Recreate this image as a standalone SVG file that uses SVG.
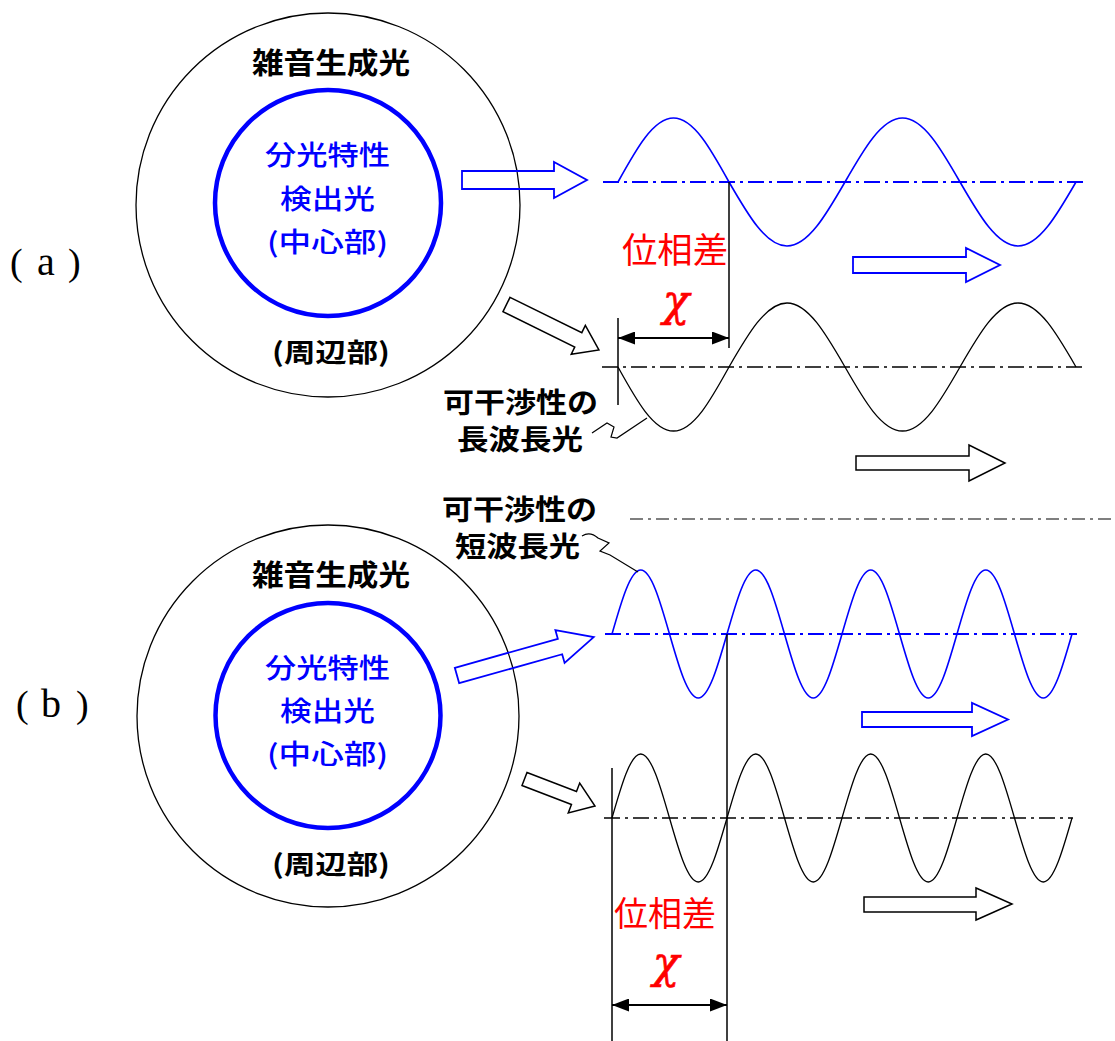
<svg xmlns="http://www.w3.org/2000/svg" width="1115" height="1041" viewBox="0 0 1115 1041">
<defs>
<style>
.outer{fill:none;stroke:#000;stroke-width:1.3}
.inner{fill:none;stroke:#0000ff;stroke-width:4.5}
.lbl{font-family:"Noto Sans CJK JP","Noto Sans",sans-serif;font-weight:bold;fill:#000}
.blu{font-family:"Noto Sans CJK JP","Noto Sans",sans-serif;font-weight:500;fill:#0000ff;font-size:27px}
.red{font-family:"Noto Sans CJK JP","Noto Sans",sans-serif;fill:#ff0000}
.chi{font-family:"DejaVu Serif",serif;font-style:italic;fill:#ff0000;font-size:44px;text-anchor:middle;stroke:#ff0000;stroke-width:0.6}
.tag{font-family:"Liberation Serif",serif;font-size:38px;fill:#000}
.wb{fill:none;stroke:#0000ff;stroke-width:1.6}
.wk{fill:none;stroke:#000;stroke-width:1.3}
.axb{stroke:#0000ff;stroke-width:2;stroke-dasharray:16 5 3 5;fill:none}
.axk{stroke:#000;stroke-width:1.5;stroke-dasharray:16 5 3 5;fill:none}
.axt{stroke:#000;stroke-width:1.2;stroke-dasharray:13 5 3 5;fill:none}
.hab{fill:none;stroke:#0000ff;stroke-width:1.8;stroke-linejoin:miter}
.hak{fill:none;stroke:#000;stroke-width:1.5;stroke-linejoin:miter}
.ref{stroke:#000;stroke-width:1.5;fill:none}
.dim{stroke:#000;stroke-width:2;fill:none;marker-start:url(#dh);marker-end:url(#dh)}
.call{stroke:#000;stroke-width:1.2;fill:none}
</style>
<marker id="dh" viewBox="0 0 17 13" refX="17" refY="6.5" markerWidth="17" markerHeight="13" markerUnits="userSpaceOnUse" orient="auto-start-reverse"><path d="M0,0 L17,6.5 L0,13 Z" fill="#000"/></marker>
</defs>
<rect width="1115" height="1041" fill="#fff"/>

<!-- Panel (a) -->
<g id="label-a"><text class="tag" y="275"><tspan x="10">(</tspan><tspan x="37" font-size="40">a</tspan><tspan x="68">)</tspan></text></g>
<g id="source-a">
<circle class="outer" cx="328" cy="205" r="192"/>
<circle class="inner" cx="328" cy="203" r="113"/>
<text class="lbl" x="252" y="74" font-size="29" textLength="158" lengthAdjust="spacingAndGlyphs">雑音生成光</text>
<text class="blu" x="265" y="165" textLength="125" lengthAdjust="spacingAndGlyphs">分光特性</text>
<text class="blu" x="280" y="209" textLength="95" lengthAdjust="spacingAndGlyphs">検出光</text>
<text class="blu" x="267" y="252" textLength="121" lengthAdjust="spacingAndGlyphs">(中心部)</text>
<text class="lbl" x="272" y="362" font-size="26" textLength="118" lengthAdjust="spacingAndGlyphs">(周辺部)</text>
</g>
<g id="wave-a-blue">
<line class="axb" x1="603" y1="182" x2="1084" y2="182"/>
<path class="wb" d="M618,182 c18.10,-32.79 35.41,-64 55.5,-64 c20.09,0 37.40,31.21 55.5,64 c18.92,32.79 37.01,64 58,64 c20.99,0 39.08,-31.21 58,-64 c18.75,-32.79 36.69,-64 57.5,-64 c20.81,0 38.75,31.21 57.5,64 c18.92,32.79 37.01,64 58,64 c20.99,0 39.08,-31.21 58,-64"/>
</g>
<g id="wave-a-black">
<line class="axk" x1="602" y1="367" x2="1084" y2="367"/>
<path class="wk" d="M618,367 c18.10,32.79 35.41,64 55.5,64 c20.09,0 37.40,-31.21 55.5,-64 c18.92,-32.79 37.01,-64 58,-64 c20.99,0 39.08,31.21 58,64 c18.75,32.79 36.69,64 57.5,64 c20.81,0 38.75,-31.21 57.5,-64 c18.92,-32.79 37.01,-64 58,-64 c20.99,0 39.08,31.21 58,64"/>
</g>
<g id="labels-a">
<text class="red" x="622" y="263" font-size="35" textLength="106" lengthAdjust="spacingAndGlyphs">位相差</text>
<text class="chi" x="676" y="316">χ</text>
<text class="lbl" x="443" y="413" font-size="28" textLength="155" lengthAdjust="spacingAndGlyphs">可干渉性の</text>
<text class="lbl" x="457" y="450" font-size="28" textLength="126" lengthAdjust="spacingAndGlyphs">長波長光</text>
</g>

<!-- Separator -->
<g id="separator"><line class="axt" x1="630" y1="519" x2="1115" y2="519"/></g>

<!-- Panel (b) -->
<g id="label-b"><text class="tag" y="717"><tspan x="16">(</tspan><tspan x="41" font-size="40">b</tspan><tspan x="76">)</tspan></text></g>
<g id="source-b">
<circle class="outer" cx="328" cy="716" r="191"/>
<circle class="inner" cx="328" cy="715.5" r="112.5"/>
<text class="lbl" x="252" y="586" font-size="29" textLength="158" lengthAdjust="spacingAndGlyphs">雑音生成光</text>
<text class="blu" x="265" y="678" textLength="125" lengthAdjust="spacingAndGlyphs">分光特性</text>
<text class="blu" x="280" y="721" textLength="95" lengthAdjust="spacingAndGlyphs">検出光</text>
<text class="blu" x="267" y="764" textLength="121" lengthAdjust="spacingAndGlyphs">(中心部)</text>
<text class="lbl" x="272" y="874" font-size="26" textLength="118" lengthAdjust="spacingAndGlyphs">(周辺部)</text>
</g>
<g id="wave-b-blue">
<line class="axb" x1="605" y1="634" x2="1077" y2="634"/>
<path class="wb" d="M612,634 c9.38,-32.79 18.35,-64 28.75,-64 c10.40,0 19.37,31.21 28.75,64 c9.38,32.79 18.35,64 28.75,64 c10.40,0 19.37,-31.21 28.75,-64 c9.38,-32.79 18.35,-64 28.75,-64 c10.40,0 19.37,31.21 28.75,64 c9.38,32.79 18.35,64 28.75,64 c10.40,0 19.37,-31.21 28.75,-64 c9.38,-32.79 18.35,-64 28.75,-64 c10.40,0 19.37,31.21 28.75,64 c9.38,32.79 18.35,64 28.75,64 c10.40,0 19.37,-31.21 28.75,-64 c9.38,-32.79 18.35,-64 28.75,-64 c10.40,0 19.37,31.21 28.75,64 c9.38,32.79 18.35,64 28.75,64 c10.40,0 19.37,-31.21 28.75,-64"/>
</g>
<g id="wave-b-black">
<line class="axk" x1="604" y1="818" x2="1073" y2="818"/>
<path class="wk" d="M612,818 c9.38,-32.79 18.35,-64 28.75,-64 c10.40,0 19.37,31.21 28.75,64 c9.38,32.79 18.35,64 28.75,64 c10.40,0 19.37,-31.21 28.75,-64 c9.38,-32.79 18.35,-64 28.75,-64 c10.40,0 19.37,31.21 28.75,64 c9.38,32.79 18.35,64 28.75,64 c10.40,0 19.37,-31.21 28.75,-64 c9.38,-32.79 18.35,-64 28.75,-64 c10.40,0 19.37,31.21 28.75,64 c9.38,32.79 18.35,64 28.75,64 c10.40,0 19.37,-31.21 28.75,-64 c9.38,-32.79 18.35,-64 28.75,-64 c10.40,0 19.37,31.21 28.75,64 c9.38,32.79 18.35,64 28.75,64 c10.40,0 19.37,-31.21 28.75,-64"/>
</g>
<g id="labels-b">
<text class="red" x="614" y="926" font-size="34" textLength="102" lengthAdjust="spacingAndGlyphs">位相差</text>
<text class="chi" x="666" y="978">χ</text>
<text class="lbl" x="442" y="520" font-size="28" textLength="155" lengthAdjust="spacingAndGlyphs">可干渉性の</text>
<text class="lbl" x="455" y="557" font-size="28" textLength="125" lengthAdjust="spacingAndGlyphs">短波長光</text>
</g>

<!-- Connectors -->
<g id="connectors">
<polygon class="hab" points="462,171 554,171 554,162 587,180 554,198 554,189 462,189"/>
<polygon class="hab" points="853,257 966,257 966,248 1000,265 966,282 966,273 853,273"/>
<polygon class="hak" points="0,-8 80,-8 80,-16 103,0 80,16 80,8 0,8" transform="translate(506.5,304.5) rotate(26.2)"/>
<polygon class="hak" points="856,456 969,456 969,445 1005,463 969,481 969,470 856,470"/>
<line class="ref" x1="618" y1="318" x2="618" y2="405"/>
<line class="ref" x1="729" y1="182" x2="729" y2="348"/>
<line class="dim" x1="618" y1="338" x2="729" y2="338"/>
<polyline class="call" points="592,433 607,423 614,427 611,437 617,438 647,418"/>

<polygon class="hab" points="0,-8 107,-8 107,-17 142,0 107,17 107,8 0,8" transform="translate(457,675.5) rotate(-15.7)"/>
<polygon class="hab" points="862,712 972,712 972,703 1008,719.5 972,736 972,727 862,727"/>
<polygon class="hak" points="0,-7 53,-7 53,-16 75.5,0 53,16 53,7 0,7" transform="translate(524.5,779) rotate(21)"/>
<polygon class="hak" points="864,897 976,897 976,888 1012,904 976,920 976,912 864,912"/>
<line class="ref" x1="612" y1="768" x2="612" y2="1041"/>
<line class="ref" x1="727" y1="634" x2="727" y2="1041"/>
<line class="dim" x1="612" y1="1005" x2="727" y2="1005"/>
<path class="call" d="M582,536 Q590,531 598,538 L609,543 L600,551 L610,555 L638,572"/>
</g>
</svg>
